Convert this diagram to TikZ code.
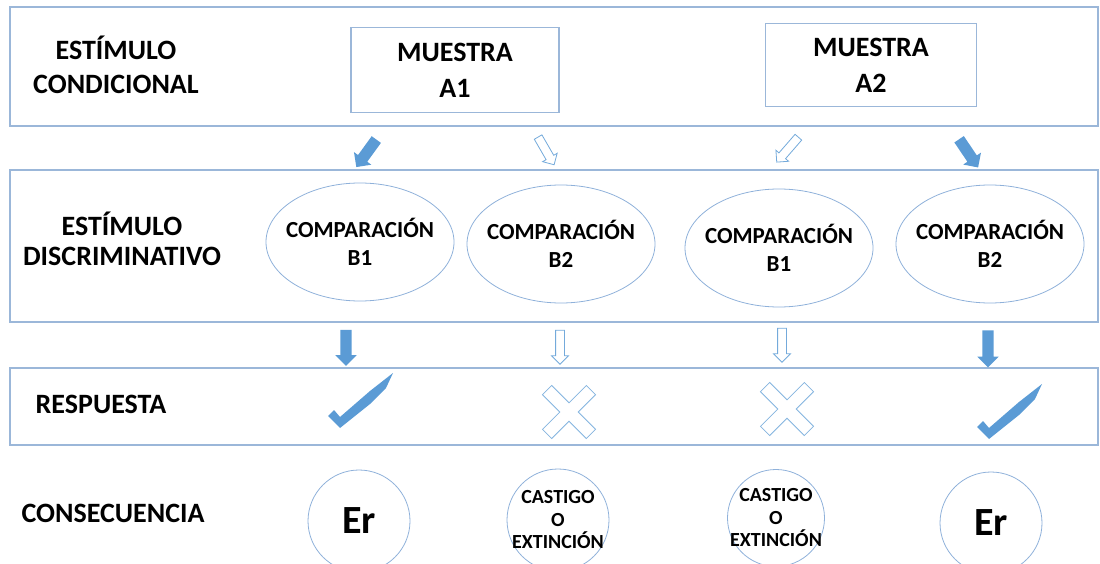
\documentclass[tikz,border=0pt]{standalone}
\usepackage{fontspec}
\setmainfont{Carlito}
\usetikzlibrary{shapes.geometric,shapes.arrows}
\definecolor{lineblue}{HTML}{9BB7D9}
\definecolor{ovalblue}{HTML}{8FB1DA}
\definecolor{markblue}{HTML}{5B9BD5}

\begin{document}
\begin{tikzpicture}[x=1pt,y=-1pt,
    band/.style={draw=lineblue,line width=1.3pt,minimum width=1088pt,inner sep=0pt},
    rowlabel/.style={font=\bfseries\fontsize{28}{34}\selectfont,align=center},
    sample/.style={draw=lineblue,line width=1.1pt,minimum width=208pt,minimum height=85pt,
        inner sep=0pt,font=\bfseries\fontsize{28}{36}\selectfont,align=center},
    compare/.style={ellipse,draw=ovalblue,line width=0.8pt,minimum width=188pt,minimum height=118pt,
        inner xsep=-16pt,inner ysep=0pt,font=\bfseries\fontsize{23}{28}\selectfont,align=center},
    outcome/.style={circle,draw=ovalblue,line width=0.8pt,minimum size=102pt,inner sep=-12pt,align=center},
    fullarrow/.style={single arrow,fill=markblue,draw=none,inner xsep=0pt,inner ysep=5.5pt,
        single arrow head extend=5pt},
    openarrow/.style={single arrow,fill=white,draw=markblue!85,line width=0.8pt,inner xsep=0pt,
        inner ysep=4pt,single arrow head extend=4pt},
    okmark/.pic={\fill[markblue] (0,0) -- (-12,-12) -- (-6,-18) -- (0,-11) -- (30,-37)
        -- (53,-55) -- (46,-40) -- (30,-24) -- cycle;},
    nomark/.pic={\draw[markblue!75,fill=white,line width=0.8pt,rotate=45]
        (6.5,6.5) -- (6.5,31) -- (-6.5,31) -- (-6.5,6.5) -- (-31,6.5) -- (-31,-6.5)
        -- (-6.5,-6.5) -- (-6.5,-31) -- (6.5,-31) -- (6.5,-6.5) -- (31,-6.5) -- (31,6.5) -- cycle;}]
    \useasboundingbox (0,0) rectangle (1100,564);

    \node[band,minimum height=119pt] (cond) at (554,66.5) {};
    \node[band,minimum height=152pt] (disc) at (554,246) {};
    \node[band,minimum height=77pt] (resp) at (554,406.5) {};

    \node[rowlabel] (lcond) at (116,65) {ESTÍMULO\\CONDICIONAL};
    \node[rowlabel,font=\bfseries\fontsize{28}{30}\selectfont] (ldisc) at (122,239) {ESTÍMULO\\DISCRIMINATIVO};
    \node[rowlabel] (lresp) at (101,404) {RESPUESTA};
    \node[rowlabel] (lcons) at (113,513) {CONSECUENCIA};

    \node[sample] (a1) at (455,70) {MUESTRA\\A1};
    \node[sample,minimum width=211pt,minimum height=83pt] (a2) at (871,65) {MUESTRA\\A2};

    \node[compare] (b1a) at (360,242) {COMPARACIÓN\\B1};
    \node[compare] (b2a) at (561,244) {COMPARACIÓN\\B2};
    \node[compare] (b1b) at (779,248) {COMPARACIÓN\\B1};
    \node[compare] (b2b) at (990,244) {COMPARACIÓN\\B2};

    \node[fullarrow,rotate=-126,minimum height=34pt] (ca1) at (368,151) {};
    \node[openarrow,rotate=-60,minimum height=32pt] (ca2) at (545,149) {};
    \node[openarrow,rotate=-131,minimum height=33pt] (ca3) at (789,148) {};
    \node[fullarrow,rotate=-56,minimum height=34pt] (ca4) at (967,151) {};

    \node[fullarrow,rotate=-90,minimum height=36pt] (ra1) at (346,345) {};
    \node[openarrow,rotate=-90,minimum height=34pt] (ra2) at (560,345) {};
    \node[openarrow,rotate=-90,minimum height=34pt] (ra3) at (782,343) {};
    \node[fullarrow,rotate=-90,minimum height=37pt] (ra4) at (988,346) {};

    \pic (ok1) at (340,428) {okmark};
    \pic (no1) at (569,412) {nomark};
    \pic (no2) at (787,409) {nomark};
    \pic (ok2) at (989,439) {okmark};

    \node[outcome,font=\bfseries\fontsize{40}{40}\selectfont] (er1) at (359,521) {Er};
    \node[outcome,font=\bfseries\fontsize{20}{22.5}\selectfont] (pun1) at (558,520) {CASTIGO\\O\\EXTINCIÓN};
    \node[outcome,minimum size=97pt,font=\bfseries\fontsize{20}{22.5}\selectfont] (pun2) at (776,518) {CASTIGO\\O\\EXTINCIÓN};
    \node[outcome,font=\bfseries\fontsize{40}{40}\selectfont] (er2) at (991,523) {Er};
\end{tikzpicture}
\end{document}
